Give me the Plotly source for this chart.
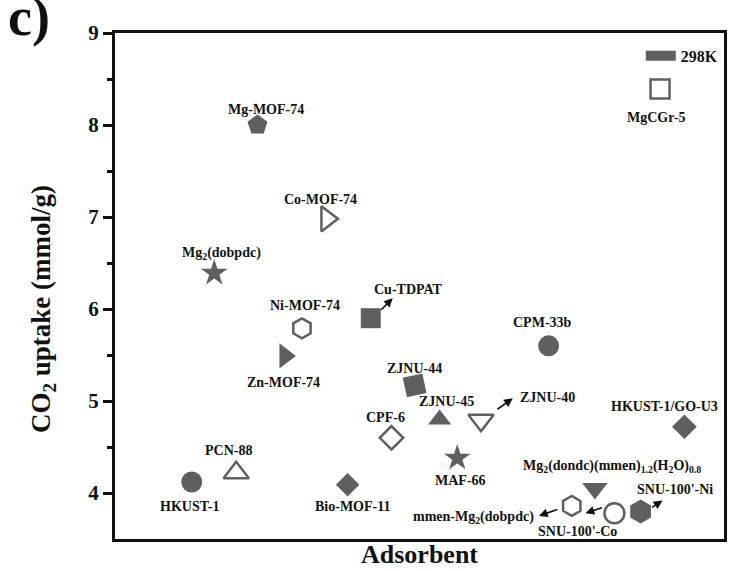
import plotly.graph_objects as go

# ---------------- data ----------------
names = ["HKUST-1", "PCN-88", "Mg-MOF-74", "Co-MOF-74", "Mg<sub>2</sub>(dobpdc)",
         "Ni-MOF-74", "Zn-MOF-74", "Cu-TDPAT", "CPM-33b", "ZJNU-44", "ZJNU-45",
         "ZJNU-40", "CPF-6", "MAF-66", "Bio-MOF-11", "HKUST-1/GO-U3", "MgCGr-5",
         "Mg<sub>2</sub>(dondc)(mmen)<sub>1.2</sub>(H<sub>2</sub>O)<sub>0.8</sub>",
         "mmen-Mg<sub>2</sub>(dobpdc)", "SNU-100'-Co", "SNU-100'-Ni"]
xpos = [1.26, 1.99, 2.34, 3.48, 1.63, 3.07, 2.79, 4.20, 7.12, 4.92, 5.33,
        6.01, 4.54, 5.62, 3.82, 9.35, 8.95, 7.88, 7.50, 8.20, 8.63]
uptake = [4.12, 4.22, 8.00, 6.98, 6.39, 5.79, 5.49, 5.90, 5.60, 5.17, 4.80,
          4.79, 4.60, 4.38, 4.09, 4.72, 8.39, 4.05, 3.86, 3.78, 3.80]
yticks = [4, 5, 6, 7, 8, 9]

# ---------------- styles ----------------
GRAY = "#5f5f5f"
symbols = ["circle", "triangle-up", "pentagon", "triangle-right", "star",
           "hexagon", "triangle-right", "square", "circle", "square", "triangle-up",
           "triangle-down", "diamond", "star", "diamond", "diamond", "square",
           "triangle-down", "hexagon", "circle", "hexagon"]
opened = [False, True, False, True, False, True, False, False, False, False, False,
          True, True, False, False, False, True, False, True, True, False]
sizes = [21, 22, 21, 22, 20, 20, 22, 20, 21, 20, 20, 22, 18, 20, 18, 19, 19, 22, 20, 20, 24]
angles = [0, 0, 0, 0, 0, 0, 0, 0, 0, -12, 0, 0, 0, 0, 0, 0, 0, 0, 0, 0, 0]

# label offsets (pixels) relative to the marker: (xshift, yshift, xanchor)
label_off = [(-2, -25, "center"), (-8, 22, "center"), (8, 16, "center"), (-6, 19, "center"),
             (7, 20, "center"), (3, 23, "center"), (-1, -27, "center"), (38, 29, "center"),
             (-6, 23, "center"), (0, 17, "center"), (7, 18, "center"), (66, 23, "center"),
             (-6, 20, "center"), (3, -22, "center"), (5, -22, "center"), (-20, 20, "center"),
             (-4, -28, "center"), (17, 22, "center"), (-36, -12, "right"), (-37, -18, "center"),
             (34, 22, "center")]
# arrows (pixel offsets from marker): tail (tx, ty), head (hx, hy); y positive = down
arrows = {7: (9, -7, 22, -20), 11: (15, -10, 32, -22), 18: (-13, 3, -33, 10),
          19: (-11, -6, -29, 0), 20: (10, -3, 22, -11)}

XR = [0, 10]
YR = [3.5, 9]
PW, PH = 612, 506  # plot area in pixels
px2x = (XR[1] - XR[0]) / PW
px2y = (YR[1] - YR[0]) / PH

FONT = "Liberation Serif, Times New Roman, serif"

fig = go.Figure()
for i in range(len(names)):
    fill = "white" if opened[i] else GRAY
    fig.add_trace(go.Scatter(
        x=[xpos[i]], y=[uptake[i]], mode="markers", showlegend=False,
        marker=dict(symbol=symbols[i], size=sizes[i], color=fill, angle=angles[i],
                    line=dict(color=GRAY, width=2.5 if opened[i] else 0)),
        hoverinfo="skip"))

# legend entry
fig.add_trace(go.Scatter(x=[None], y=[None], mode="lines", name="298K",
                         line=dict(color=GRAY, width=10)))

annotations = []
for i, n in enumerate(names):
    xs, ys, xa = label_off[i]
    annotations.append(dict(x=xpos[i], y=uptake[i], xref="x", yref="y", text=n,
                            showarrow=False, xshift=xs, yshift=ys, xanchor=xa,
                            yanchor="middle",
                            font=dict(family=FONT, size=14, color="#111", weight="bold")))
for i, (tx, ty, hx, hy) in arrows.items():
    annotations.append(dict(x=xpos[i] + hx * px2x, y=uptake[i] - hy * px2y,
                            ax=xpos[i] + tx * px2x, ay=uptake[i] - ty * px2y,
                            xref="x", yref="y", axref="x", ayref="y", text="",
                            showarrow=True, arrowhead=2, arrowsize=1.1, arrowwidth=1.6,
                            arrowcolor="#111"))

# y axis title
annotations.append(dict(x=-0.118, y=0.455, xref="paper", yref="paper",
                        text="CO<sub>2</sub> uptake (mmol/g)", textangle=-90,
                        showarrow=False, xanchor="center", yanchor="middle",
                        font=dict(family=FONT, size=27, color="#111", weight="bold")))
# panel letter (partly cut at the top edge, as in the reference)
annotations.append(dict(x=-0.142, y=0.968, xref="paper", yref="paper", text="c)",
                        showarrow=False, xanchor="center", yanchor="bottom",
                        font=dict(family=FONT, size=54, color="#111", weight="bold")))

fig.update_layout(
    width=730, height=571,
    margin=dict(l=115, r=3, t=33, b=32),
    paper_bgcolor="white", plot_bgcolor="white",
    annotations=annotations,
    legend=dict(x=0.998, y=0.955, xanchor="right", yanchor="middle",
                bgcolor="rgba(0,0,0,0)", itemwidth=30,
                font=dict(family=FONT, size=16, color="#111", weight="bold")),
    xaxis=dict(range=XR, showgrid=False, zeroline=False, showticklabels=False,
               ticks="", showline=True, linecolor="#111", linewidth=3, mirror=True,
               title=dict(text="Adsorbent", standoff=4,
                          font=dict(family=FONT, size=26, color="#111", weight="bold"))),
    yaxis=dict(range=YR, showgrid=False, zeroline=False, tickvals=yticks,
               ticks="outside", ticklen=9, tickwidth=2.5, tickcolor="#111",
               showline=True, linecolor="#111", linewidth=3, mirror=True,
               minor=dict(tickvals=[4.5, 5.5, 6.5, 7.5, 8.5], ticks="outside",
                          ticklen=5, tickwidth=2.5, tickcolor="#111"),
               tickfont=dict(family=FONT, size=21, color="#111", weight="bold")),
)

fig.write_html("out.html")
